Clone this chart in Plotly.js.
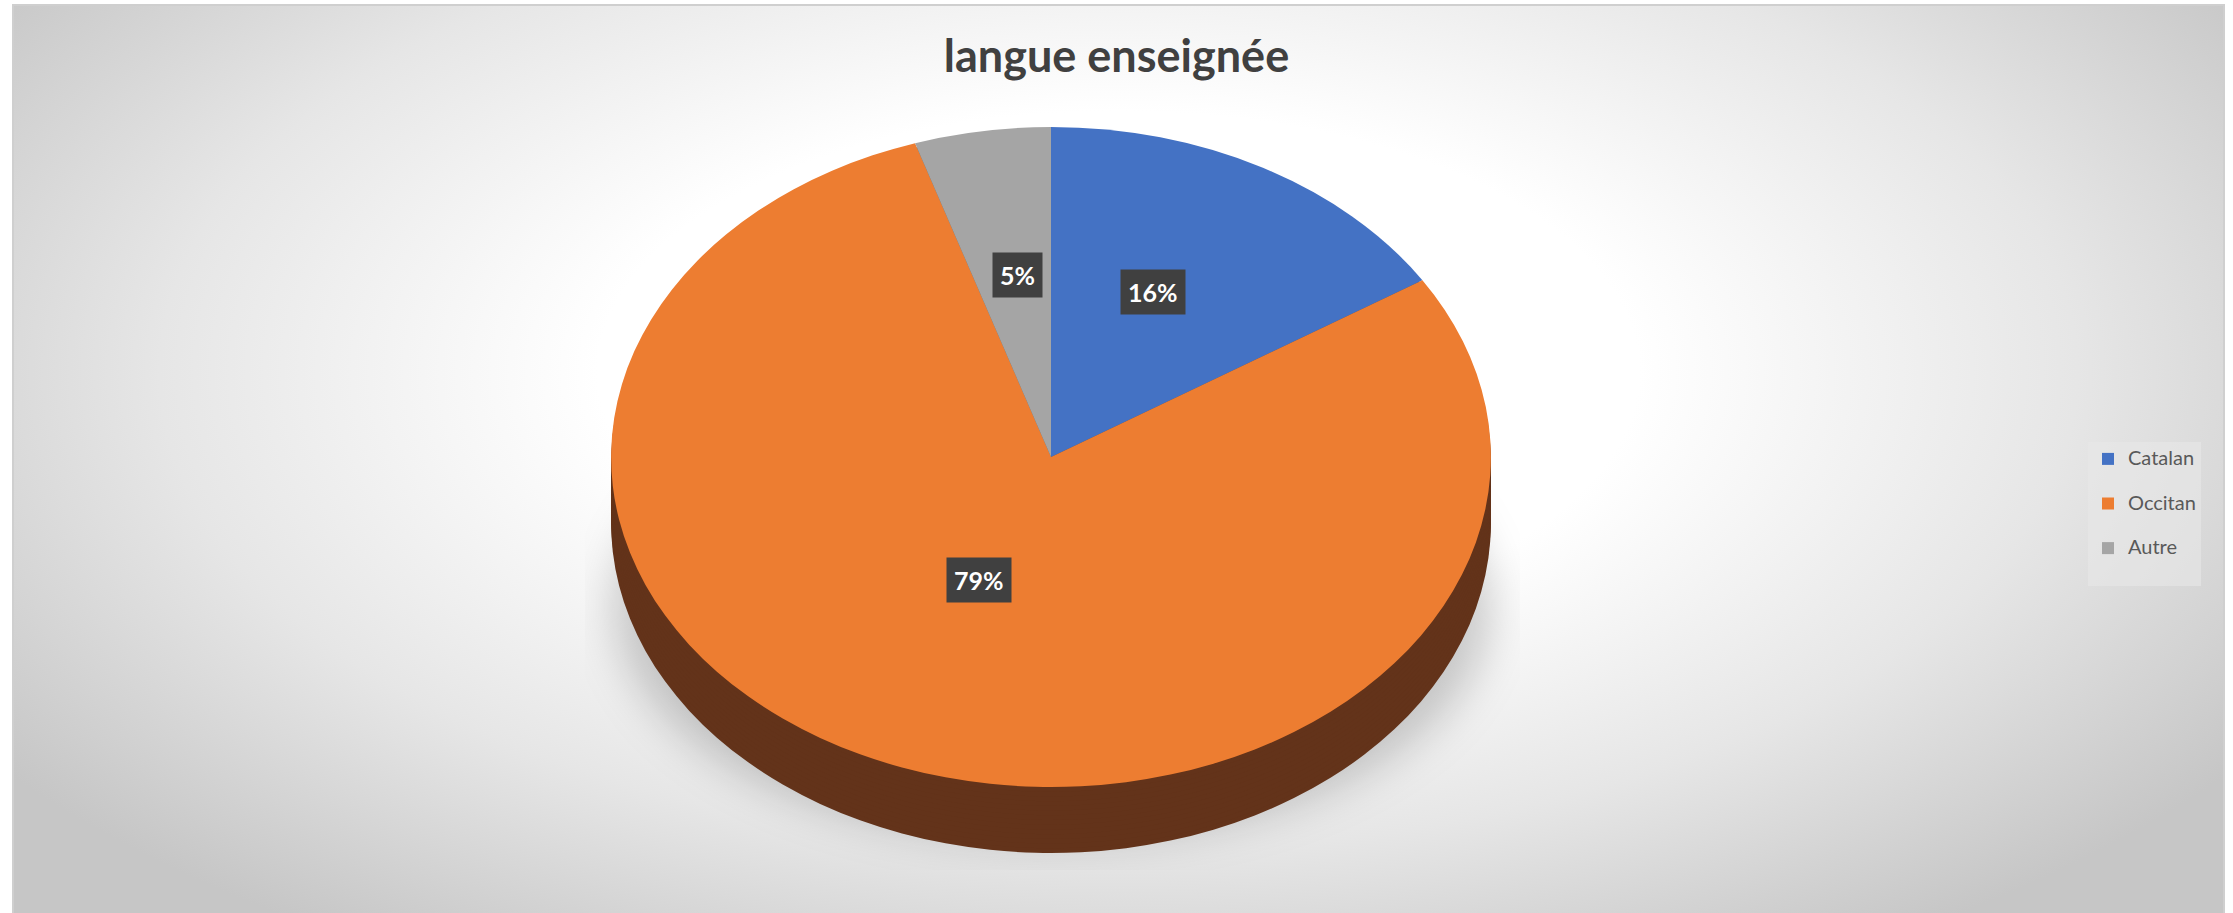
<!DOCTYPE html>
<html>
<head>
<meta charset="utf-8">
<script src="https://cdn.plot.ly/plotly-3.0.1.min.js"></script>
<style>
  html, body { margin: 0; padding: 0; width: 2233px; height: 913px; overflow: hidden; background: #fff; }
  #bg {
    position: absolute; left: 12px; top: 4px; width: 2209px; height: 915px;
    border: 2px solid #cfcfcf;
    background: radial-gradient(ellipse 62% 75% at 50% 40%, #ffffff 0%, #ffffff 38%, #e6e6e6 70%, #c6c6c6 100%);
  }
  #shadowclip { position: absolute; left: 585px; top: 360px; width: 935px; height: 510px; overflow: hidden; }
  #shadow {
    position: absolute; left: 30px; top: 10px; width: 875px; height: 470px;
    border-radius: 50%; background: rgba(0,0,0,0.20); filter: blur(22px);
  }
  #chart { position: absolute; left: 0; top: 0; width: 2233px; height: 913px; }
</style>
</head>
<body>
<div id="bg"></div>
<div id="shadowclip"><div id="shadow"></div></div>
<div id="chart"></div>
<script>
// ---- data ----
const categories = ['Catalan', 'Occitan', 'Autre'];
const values = [16, 79, 5];
const colors = ['#4472C4', '#ED7D31', '#A5A5A5'];
const sideColors = ['#2c4b82', '#63331a', '#6b6b6b'];
const chartTitle = 'langue enseignée';

// ---- geometry (styling) ----
const W = 2233, H = 913;
const cxPx = 1051, cyPx = 457, rPx = 330;   // top face circle before horizontal stretch
const stretch = 1.333;                       // horizontal stretch to mimic tilt
const depthPx = 66;                          // 3D depth
const nSide = 14;

function domainFor(offsetPx) {
  const cyB = H - (cyPx + offsetPx);
  return {
    x: [(cxPx - rPx) / W, (cxPx + rPx) / W],
    y: [(cyB - rPx) / H, (cyB + rPx) / H]
  };
}

// legend entries: larger text plus a blank second line for Excel-like spacing
const legendLabels = categories.map(c => '<span style="font-size:20px">' + c + '</span><br> ');

const traces = [];
for (let k = nSide; k >= 1; k--) {
  traces.push({
    type: 'pie', labels: legendLabels, values: values,
    sort: false, direction: 'clockwise', rotation: 0,
    marker: { colors: sideColors, line: { width: 0 } },
    textinfo: 'none', hoverinfo: 'skip', showlegend: false,
    domain: domainFor(depthPx * k / nSide)
  });
}
traces.push({
  type: 'pie', labels: legendLabels, values: values,
  sort: false, direction: 'clockwise', rotation: 0,
  marker: { colors: colors, line: { width: 0 } },
  textinfo: 'none', hoverinfo: 'percent',
  domain: domainFor(0)
});

// label boxes placed from the data (mid-angle of each slice)
const total = values.reduce((a, b) => a + b, 0);
const annotations = [];
let cum = 0;
const kLab = 0.48, labLift = 26;
values.forEach((v, i) => {
  const th = 2 * Math.PI * (cum + v / 2) / total;
  cum += v;
  const px = cxPx + stretch * rPx * kLab * Math.sin(th);
  const py = cyPx - labLift - rPx * kLab * Math.cos(th);
  annotations.push({
    x: px / W, y: 1 - py / H, xref: 'paper', yref: 'paper',
    xanchor: 'center', yanchor: 'middle', showarrow: false,
    text: '<b>' + Math.round(v / total * 100) + '%</b>',
    font: { family: 'Lato, Carlito, sans-serif', size: 25, color: '#ffffff' },
    bgcolor: '#404040', borderpad: 7
  });
});

const layout = {
  width: W, height: H,
  margin: { l: 0, r: 0, t: 0, b: 0 },
  paper_bgcolor: 'rgba(0,0,0,0)',
  plot_bgcolor: 'rgba(0,0,0,0)',
  title: {
    text: '<b>' + chartTitle + '</b>',
    x: 0.5, xref: 'paper', xanchor: 'center',
    y: 1 - 56 / H, yref: 'container', yanchor: 'middle',
    font: { family: 'Lato, Carlito, sans-serif', size: 45, color: '#404040' }
  },
  legend: {
    x: 2088 / W, xanchor: 'left', y: 1 - 514 / H, yanchor: 'middle',
    valign: 'top',
    bgcolor: 'rgba(232,232,232,0.6)', borderwidth: 0,
    font: { family: 'Lato, Carlito, sans-serif', size: 16, color: '#595959' },
    itemclick: false, itemdoubleclick: false
  },
  annotations: annotations,
  showlegend: true
};

Plotly.newPlot('chart', traces, layout, { displayModeBar: false, staticPlot: true }).then(function () {
  const pl = document.querySelector('#chart .pielayer');
  if (pl) pl.setAttribute('transform', 'translate(' + cxPx + ',0) scale(' + stretch + ',1) translate(' + (-cxPx) + ',0)');
});
</script>
</body>
</html>
